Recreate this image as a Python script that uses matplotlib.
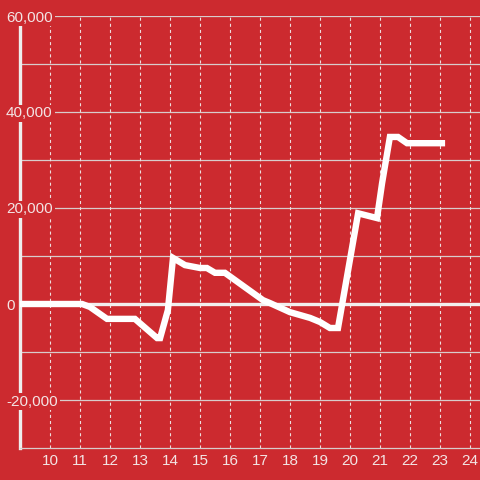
import matplotlib
matplotlib.use('Agg')
import matplotlib.pyplot as plt
from matplotlib import rcParams

rcParams['font.family'] = ['Liberation Sans', 'DejaVu Sans']
rcParams['lines.scale_dashes'] = False

bg = '#cc2a2f'
fg = '#f3e4e4'

# series
hours = [9, 11.07, 11.33, 11.9, 12.83, 13.57, 13.67, 13.93, 14.1, 14.5, 15.0,
         15.23, 15.5, 15.83, 17.1, 17.33, 18.0, 18.67, 19.0, 19.33, 19.6,
         20.27, 20.9, 21.07, 21.33, 21.6, 21.9, 23.17]
values = [0, 0, -600, -3100, -3100, -7100, -7100, -1250, 9600, 8100, 7500,
          7500, 6500, 6500, 800, 200, -1700, -2900, -3750, -5000, -5000,
          18900, 17900, 25200, 34800, 34800, 33500, 33500]

xticks = list(range(10, 25))
yticks = [-20000, 0, 20000, 40000, 60000]
ylabels = ['-20,000', '0', '20,000', '40,000', '60,000']
ygrid = list(range(-20000, 60001, 10000))

fig = plt.figure(figsize=(4.8, 4.8), dpi=100, facecolor=bg)
ax = fig.add_axes([20/480, 32/480, 460/480, 432/480], facecolor=bg)
ax.set_xlim(9, 9 + 460/30)
ax.set_ylim(-30000, 60000)

for g in ygrid:
    if g != 0:
        ax.axhline(g, color='#d8cccc', lw=0.9, zorder=0.6)
ax.axhline(0, color='#f2eeee', lw=2.4, zorder=0.7)
for xt in xticks:
    ax.axvline(xt, color='#eedede', lw=0.8, ls=(0, (2.2, 2.2)), zorder=0.6)

ax.plot(hours, values, color='white', lw=4.6, solid_capstyle='butt',
        solid_joinstyle='miter', zorder=3)

for s in ['top', 'right']:
    ax.spines[s].set_visible(False)
ax.spines['left'].set_color('#eeeeee')
ax.spines['left'].set_linewidth(2.4)
ax.spines['left'].set_zorder(1)
ax.spines['bottom'].set_color('#d8cccc')
ax.spines['bottom'].set_linewidth(0.9)

ax.set_xticks(xticks)
ax.set_xticklabels([str(x) for x in xticks])
ax.set_yticks(yticks)
ax.set_yticklabels(ylabels)
ax.tick_params(axis='x', length=0, pad=4, labelsize=11, labelcolor=fg)
ax.tick_params(axis='y', length=0, pad=10, labelsize=11, labelcolor=fg)
for t in ax.get_yticklabels():
    t.set_horizontalalignment('left')
    t.set_bbox(dict(boxstyle='square,pad=0.12', fc=bg, ec='none'))
    t.set_zorder(2)
ax.yaxis.set_zorder(2)

fig.savefig('out.png', dpi=100, facecolor=bg)
